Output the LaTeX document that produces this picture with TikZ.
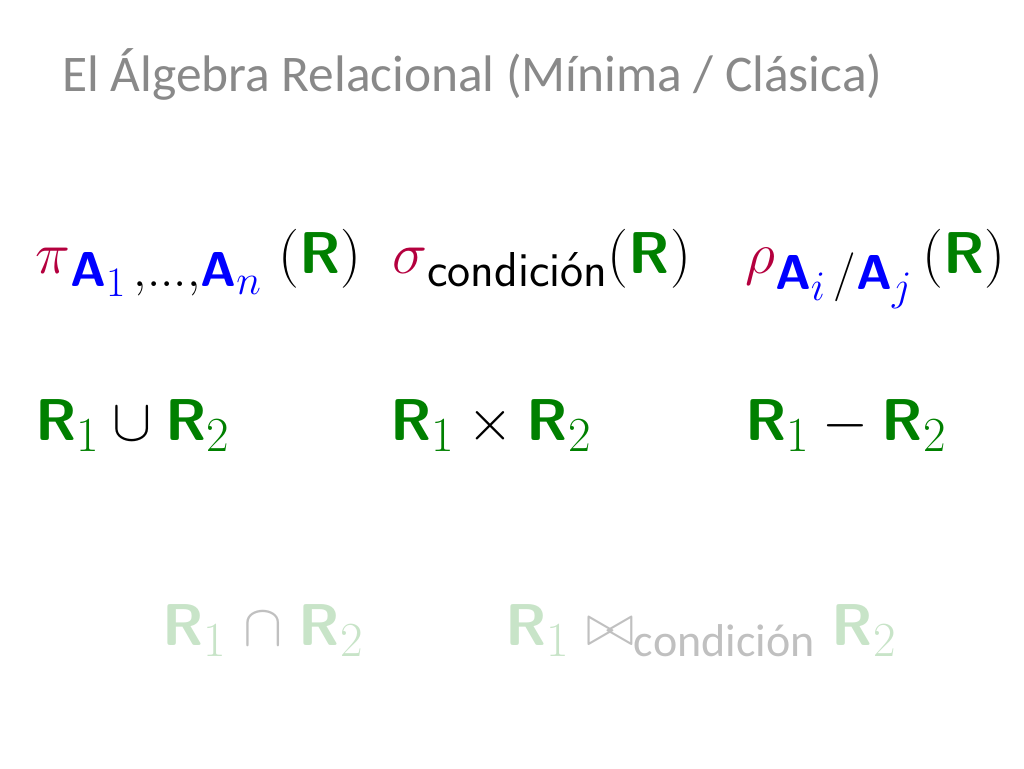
\documentclass[tikz,border=0pt]{standalone}
\usepackage{fix-cm}
\usepackage{amsmath}
\usepackage{fontspec}
\newfontfamily\calibri{Carlito}
\DeclareMathSizes{59}{59}{49}{42}
\definecolor{dgreen}{RGB}{0,128,0}
\definecolor{pblue}{RGB}{0,0,255}
\definecolor{pimag}{RGB}{180,0,62}
\definecolor{titlegray}{RGB}{137,137,137}
\definecolor{lgreen}{RGB}{200,228,200}
\definecolor{lgray}{RGB}{192,192,192}
\newcommand{\SR}{\textsf{\bfseries R}}
\newcommand{\SA}{\textsf{\bfseries A}}
\tikzset{
  formula/.style={anchor=base west, inner sep=0pt, font=\fontsize{59}{62}\selectfont},
  titletext/.style={anchor=base west, inner sep=0pt, text=titlegray, font=\calibri\fontsize{51.4}{60}\selectfont}
}
\begin{document}
\begin{tikzpicture}[x=1pt,y=-1pt]
\useasboundingbox (0,0) rectangle (1024,768);
\node[titletext] (title) at (62,91) {El Álgebra Relacional (Mínima / Clásica)};
% row 1
\node[formula] (proj) at (35,273) {${\color{pimag}\pi}_{{\color{pblue}\SA_1}\,,\ldots,{\color{pblue}\SA_n}}\;(\textcolor{dgreen}{\SR})$};
\node[formula] (sel) at (392,273) {${\color{pimag}\sigma}_{\textsf{condición}}(\textcolor{dgreen}{\SR})$};
\node[formula] (ren) at (745,273) {${\color{pimag}\rho}_{{\color{pblue}\SA_i}\,/{\color{pblue}\SA_j}}\,(\textcolor{dgreen}{\SR})$};
% row 2
\node[formula] (uni) at (35,440) {$\textcolor{dgreen}{\SR_1}\cup\textcolor{dgreen}{\SR_2}$};
\node[formula] (prod) at (390,440) {$\textcolor{dgreen}{\SR_1}\times\textcolor{dgreen}{\SR_2}$};
\node[formula] (diff) at (745,440) {$\textcolor{dgreen}{\SR_1}-\textcolor{dgreen}{\SR_2}$};
% row 3
\node[formula] (inter) at (162,645) {$\textcolor{lgreen}{\SR_1}\mathrel{\color{lgray}\cap}\textcolor{lgreen}{\SR_2}$};
\node[formula] (join) at (505,645) {$\textcolor{lgreen}{\SR_1}\mathrel{\color{lgray}\bowtie_{\text{\calibri\fontsize{46}{50}\selectfont condición}}}\textcolor{lgreen}{\SR_2}$};
\end{tikzpicture}
\end{document}
